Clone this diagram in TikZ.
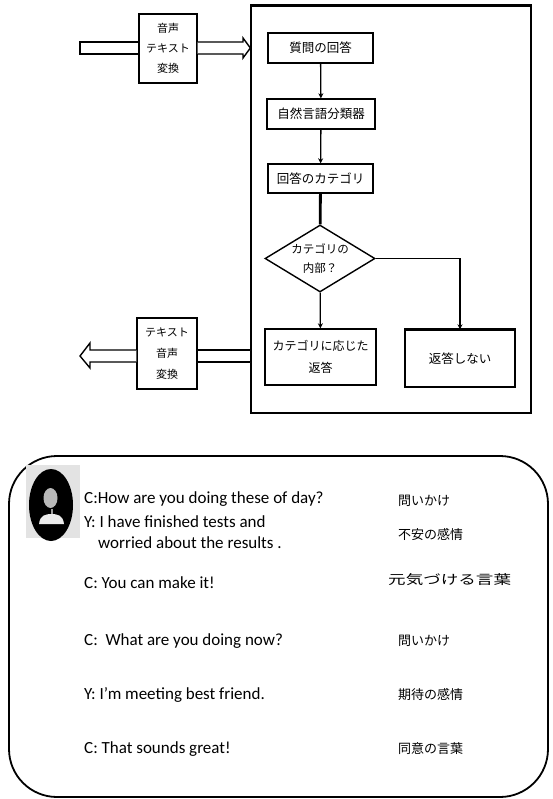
\documentclass[tikz,border=0pt]{standalone}
\usepackage{fontspec}
\setmainfont{Carlito}
\newfontfamily\jp{Noto Sans CJK JP}
\usetikzlibrary{shapes.geometric,arrows.meta}
\begin{document}
\begin{tikzpicture}[x=1pt,y=-1pt,
  box/.style={draw,line width=1.4pt,fill=white,inner sep=0pt,align=center,
    font=\jp\fontsize{12.5}{15}\selectfont},
  flow/.style={line width=1.3pt,-{Stealth[length=5pt,width=5pt]}},
  block/.style={draw,line width=1.4pt,fill=white,line join=miter},
  talk/.style={anchor=base west,inner sep=0pt,font=\fontsize{17}{20}\selectfont},
  tag/.style={anchor=base west,inner sep=0pt,font=\jp\fontsize{13}{16}\selectfont}]
\useasboundingbox (0,0) rectangle (552,799);

% ---------- flowchart ----------
\node[draw,line width=1.3pt,minimum width=280pt,minimum height=407pt,inner sep=0pt]
  (frame) at (391,209.5) {};
\draw[line width=2.6pt] (frame.north west) -- (frame.north east);

\node[box,minimum width=58pt,minimum height=69pt,font=\jp\fontsize{11}{20}\selectfont]
  (stt) at (168,48.5) {音声\\テキスト\\変換};
\node[box,minimum width=60pt,minimum height=71pt,font=\jp\fontsize{11}{21}\selectfont]
  (tts) at (167,353.5) {テキスト\\音声\\変換};

\node[box,minimum width=105pt,minimum height=30pt] (ans) at (320.5,48) {質問の回答};
\node[box,minimum width=108pt,minimum height=30pt] (nlc) at (321,114) {自然言語分類器};
\node[box,minimum width=105pt,minimum height=29pt] (cat) at (320.5,178.5) {回答のカテゴリ};
\node[box,shape=diamond,aspect=1.64,minimum width=110pt,minimum height=67pt,
  font=\jp\fontsize{11.5}{19}\selectfont] (dec) at (320,258.5) {カテゴリの\\内部？};
\node[box,minimum width=111pt,minimum height=56pt,font=\jp\fontsize{12}{22}\selectfont]
  (rep) at (320.5,357) {カテゴリに応じた\\返答};
\node[box,minimum width=110pt,minimum height=57pt] (norep) at (460,358.5) {返答しない};
\draw[line width=2.6pt] (norep.north west) -- (norep.north east);

\draw[flow] (ans) -- (nlc);
\draw[flow] (nlc) -- (cat);
\draw[line width=2.8pt] (cat) -- (dec);
\draw[flow] (dec) -- (rep);
\draw[flow] (dec.east) -| (norep.north);

% hollow block arrow into the chart
\draw[block] (stt.west |- 0,42) -- (80,42) -- (80,54) -- (stt.west |- 0,54);
\draw[block] (stt.east |- 0,42) -- (243,42) -- (243,38) -- (frame.west |- 0,48)
  -- (243,58) -- (243,54) -- (stt.east |- 0,54);
% hollow block arrow out of the chart
\draw[block] (frame.west |- 0,350) -- (tts.east |- 0,350);
\draw[block] (frame.west |- 0,362) -- (tts.east |- 0,362);
\draw[block] (tts.west |- 0,350) -- (90,350) -- (90,343) -- (80,356)
  -- (90,368) -- (90,362) -- (tts.west |- 0,362);

% ---------- dialogue panel ----------
\draw[line width=1.8pt,rounded corners=48pt] (9,456) rectangle (548,797);

% avatar
\fill[gray!22] (26,465) rectangle (80,538);
\fill[black] (51,505) ellipse [x radius=22, y radius=36];
\fill[gray!55] (50.5,498) ellipse [x radius=7, y radius=10];
\fill[gray!75] (50.5,509) rectangle (53,514);
\fill[white!85!gray] (39,524) .. controls (40,515) and (46,514) .. (51.5,514)
  .. controls (57,514) and (63,515) .. (64,524) -- cycle;

\node[talk] (c1) at (84,503) {C:How are you doing these of day?};
\node[talk] (y1) at (84,527) {Y: I have finished tests and};
\node[talk] (y1b) at (98,548) {worried about the results .};
\node[talk] (c2) at (84,588) {C: You can make it!};
\node[talk] (c3) at (84,645) {C:\ \ What are you doing now?};
\node[talk] (y2) at (84,699) {Y: I'm meeting best friend.};
\node[talk] (c4) at (84,753) {C: That sounds great!};

\node[tag] (t1) at (398,505) {問いかけ};
\node[tag] (t2) at (398,539) {不安の感情};
\node[tag] (t3) at (388,584) {\scalebox{1.35}[1]{元気づける言葉}};
\node[tag] (t4) at (398,645) {問いかけ};
\node[tag] (t5) at (398,699) {期待の感情};
\node[tag] (t6) at (398,753) {同意の言葉};
\end{tikzpicture}
\end{document}
